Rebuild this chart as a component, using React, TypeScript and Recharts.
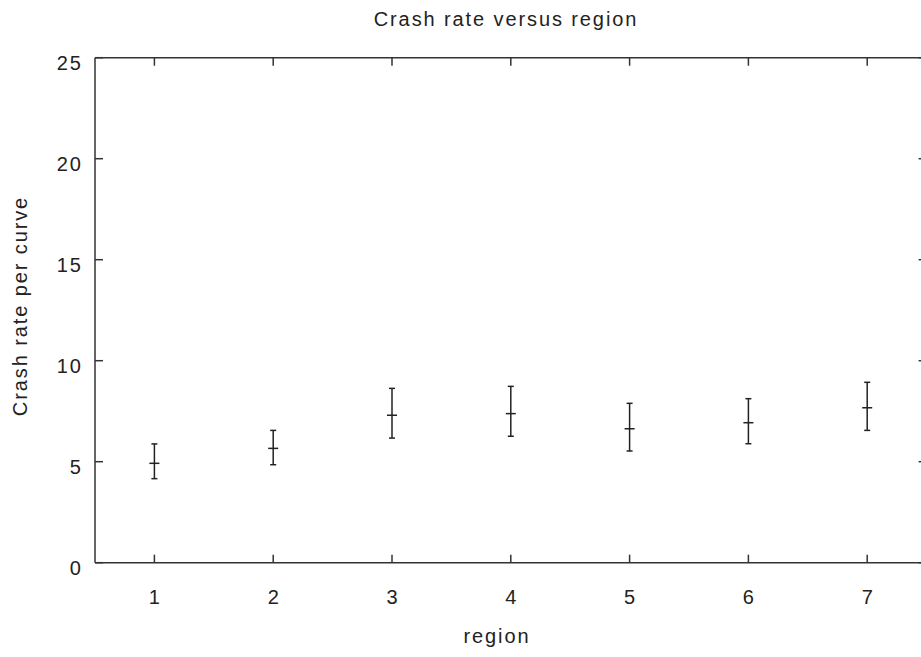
import { ScatterChart, Scatter, ErrorBar, XAxis, YAxis } from "recharts";

const regions = [1, 2, 3, 4, 5, 6, 7];
const crashRate = [4.92, 5.66, 7.3, 7.38, 6.63, 6.93, 7.67];
const lowerBound = [4.16, 4.85, 6.17, 6.26, 5.53, 5.89, 6.55];
const upperBound = [5.88, 6.55, 8.63, 8.73, 7.89, 8.12, 8.93];
const yTicks = [0, 5, 10, 15, 20, 25];

const data = regions.map((r, i) => ({
  region: r,
  rate: crashRate[i],
  err: [crashRate[i] - lowerBound[i], upperBound[i] - crashRate[i]],
}));

const font = "'Liberation Sans', Arial, sans-serif";
const ink = "#222";
const frame = "#333";
const fontSize = 20;
const spacing = 1.9;

// short horizontal dash at each mean value
const Dash = (props: any) => {
  const { cx, cy } = props;
  return <line x1={cx - 5} x2={cx + 5} y1={cy} y2={cy} stroke={ink} strokeWidth={1.5} />;
};

const LeftTick = ({ x, y, payload }: any) => (
  <text
    x={x + spacing}
    y={y + 5}
    textAnchor="end"
    dominantBaseline="central"
    fontFamily={font}
    fontSize={fontSize}
    letterSpacing={spacing}
    fill={ink}
  >
    {payload.value}
  </text>
);

const BottomTick = ({ x, y, payload }: any) => (
  <text
    x={x + spacing / 2}
    y={y}
    dy="0.72em"
    textAnchor="middle"
    fontFamily={font}
    fontSize={fontSize}
    letterSpacing={spacing}
    fill={ink}
  >
    {payload.value}
  </text>
);

const textBase: React.CSSProperties = {
  position: "absolute",
  fontFamily: font,
  fontSize,
  color: ink,
  letterSpacing: spacing,
  whiteSpace: "nowrap",
  lineHeight: "22px",
};

export default function App() {
  return (
    <div
      style={{
        position: "fixed",
        left: 0,
        top: 0,
        width: 921,
        height: 657,
        overflow: "hidden",
        background: "#fff",
      }}
    >
      <ScatterChart
        width={950}
        height={657}
        margin={{ top: 56.7, right: 22.4, bottom: 34.3, left: 35 }}
      >
        <XAxis
          xAxisId="bottom"
          type="number"
          dataKey="region"
          domain={[0.5, 7.5]}
          ticks={regions}
          height={60}
          tickSize={-8}
          tickMargin={35}
          tick={<BottomTick />}
          stroke={frame}
          strokeWidth={1.5}
          allowDataOverflow
        />
        <XAxis
          xAxisId="top"
          orientation="top"
          type="number"
          dataKey="region"
          domain={[0.5, 7.5]}
          ticks={regions}
          height={1}
          tickSize={-8}
          tickFormatter={() => ""}
          stroke={frame}
          strokeWidth={1.5}
          allowDataOverflow
        />
        <YAxis
          yAxisId="left"
          type="number"
          domain={[0, 25]}
          ticks={yTicks}
          width={60}
          tickSize={-8}
          tickMargin={22}
          tick={<LeftTick />}
          stroke={frame}
          strokeWidth={1.5}
          allowDataOverflow
        />
        <YAxis
          yAxisId="right"
          orientation="right"
          type="number"
          domain={[0, 25]}
          ticks={yTicks}
          width={1}
          tickSize={-8}
          tickFormatter={() => ""}
          stroke={frame}
          strokeWidth={1.5}
          allowDataOverflow
        />
        <Scatter
          data={data}
          dataKey="rate"
          xAxisId="bottom"
          yAxisId="left"
          shape={<Dash />}
          isAnimationActive={false}
        >
          <ErrorBar dataKey="err" direction="y" width={3} stroke={ink} strokeWidth={1.5} />
        </Scatter>
      </ScatterChart>
      <div style={{ ...textBase, left: 506, top: 8, transform: "translateX(-50%)" }}>
        Crash rate versus region
      </div>
      <div style={{ ...textBase, left: 497, top: 625, transform: "translateX(-50%)" }}>
        region
      </div>
      <div
        style={{
          ...textBase,
          left: 20,
          top: 306,
          transform: "translate(-50%, -50%) rotate(-90deg)",
        }}
      >
        Crash rate per curve
      </div>
    </div>
  );
}
